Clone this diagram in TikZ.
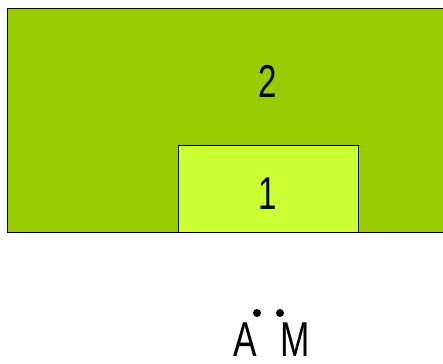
\documentclass[tikz,border=0pt]{standalone}
\usepackage{fontspec}
\newfontfamily\narrowfont[FakeStretch=0.72]{Liberation Sans}
\definecolor{outergreen}{HTML}{99CC00}
\definecolor{innergreen}{HTML}{CCFF33}
\begin{document}
\begin{tikzpicture}[x=1pt,y=-1pt,
  box/.style={draw=black,line width=0.8pt},
  label/.style={inner sep=0pt,font=\narrowfont\fontsize{46}{46}\selectfont},
  pointlabel/.style={inner sep=0pt,font=\narrowfont\fontsize{49}{49}\selectfont},
  pt/.style={circle,fill=black,inner sep=0pt,minimum size=8pt}]
  \useasboundingbox (0,0) rectangle (443,363);
  \clip (0,0) rectangle (443,363);
  % outer region
  \path[box,fill=outergreen] (7,8) rectangle (452,232);
  % inner region
  \path[box,fill=innergreen] (178,145) rectangle (358,232);
  \node[label] (two) at (268,81.5) {2};
  \node[label] (one) at (267.5,193.5) {1};
  % labelled points
  \node[pointlabel] (A) at (245.5,339.5) {A};
  \node[pointlabel] (M) at (295.5,339.5) {M};
  \node[pt] (pa) at (257,313) {};
  \node[pt] (pm) at (280,313) {};
\end{tikzpicture}
\end{document}
